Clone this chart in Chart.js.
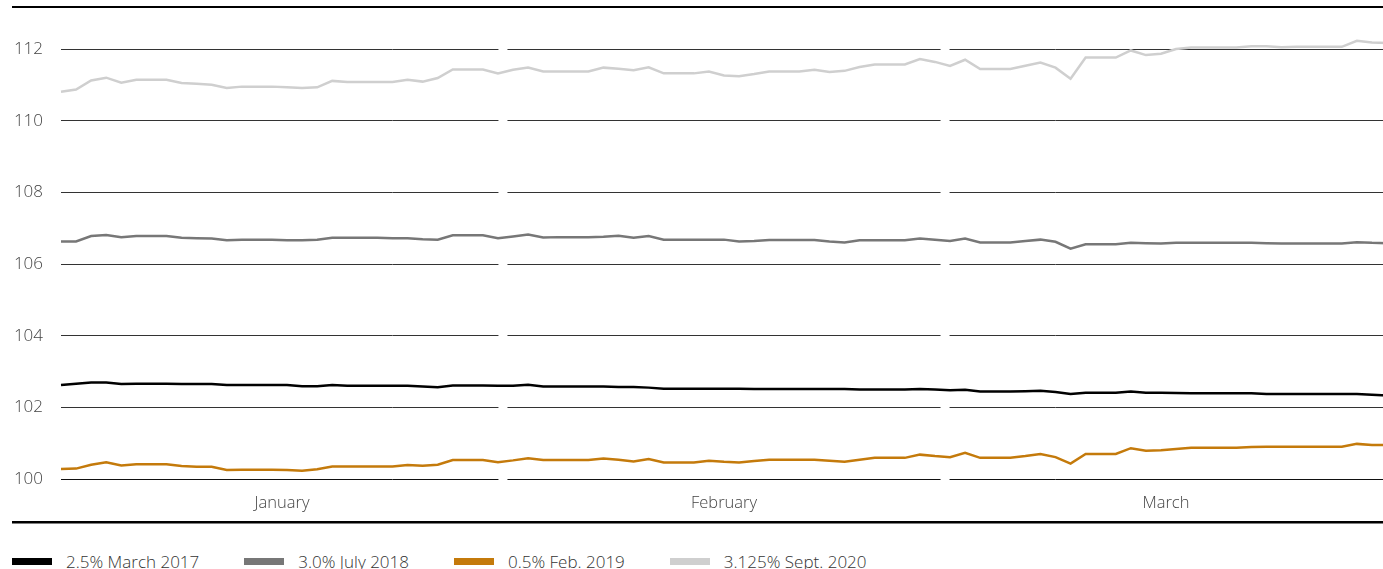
<!DOCTYPE html>
<html>
<head>
<meta charset="utf-8">
<script src="https://cdn.jsdelivr.net/npm/chart.js@4/dist/chart.umd.min.js"></script>
<style>
  html, body { margin: 0; padding: 0; background: #fff; overflow: hidden; }
  body { width: 1383px; height: 569px; position: relative; font-family: 'Open Sans', sans-serif; }
  .wrap { position: absolute; left: 0; top: 0; width: 1387px; height: 569px; }
  .chart-box { position: relative; width: 1387px; height: 530px; }
  .legend { position: absolute; left: 12px; top: 550px; display: flex; white-space: nowrap; }
  .legend-item { display: flex; align-items: center; margin-right: 45px; font-size: 17px; font-weight: 300; color: #333; }
  .legend-swatch { width: 40px; height: 7px; margin-right: 14px; }
</style>
</head>
<body>
<div class="wrap">
  <div class="chart-box"><canvas id="bondChart"></canvas></div>
  <div class="legend" id="legend"></div>
</div>
<script>
// ============================================================
// Bond prices, January – March
// ============================================================

const monthNames = ['January', 'February', 'March'];
const monthCentres = [14.67, 44, 73.33];
const monthBounds  = [29.33, 58.67];
const yTicks = [100, 102, 104, 106, 108, 110, 112];

const seriesNames  = ['2.5% March 2017', '3.0% July 2018', '0.5% Feb. 2019', '3.125% Sept. 2020'];
const seriesColors = ['#000000', '#777777', '#c47a0b', '#cfcfcf'];

const march2017 = [
  102.62,102.66,102.69,102.69,102.65,102.66,102.66,102.66,102.65,102.65,
  102.65,102.62,102.62,102.62,102.62,102.62,102.59,102.59,102.62,102.60,
  102.60,102.60,102.60,102.60,102.58,102.56,102.61,102.61,102.61,102.60,
  102.60,102.63,102.58,102.58,102.58,102.58,102.58,102.57,102.57,102.55,
  102.52,102.52,102.52,102.52,102.52,102.52,102.51,102.51,102.51,102.51,
  102.51,102.51,102.51,102.50,102.50,102.50,102.50,102.51,102.50,102.48,
  102.49,102.44,102.44,102.44,102.45,102.46,102.43,102.37,102.41,102.41,
  102.41,102.44,102.41,102.41,102.40,102.39,102.39,102.39,102.39,102.39,
  102.37,102.37,102.37,102.37,102.37,102.37,102.37,102.35,102.33
];

const july2018 = [
  106.63,106.63,106.78,106.81,106.75,106.78,106.78,106.78,106.73,106.72,
  106.71,106.66,106.68,106.68,106.68,106.66,106.66,106.68,106.73,106.73,
  106.73,106.73,106.72,106.72,106.69,106.68,106.80,106.80,106.80,106.72,
  106.77,106.82,106.74,106.75,106.75,106.75,106.76,106.79,106.73,106.78,
  106.68,106.68,106.68,106.68,106.68,106.63,106.64,106.67,106.67,106.67,
  106.67,106.63,106.60,106.66,106.66,106.66,106.66,106.71,106.68,106.64,
  106.71,106.60,106.60,106.60,106.64,106.68,106.62,106.43,106.55,106.55,
  106.55,106.59,106.58,106.57,106.59,106.59,106.59,106.59,106.59,106.59,
  106.58,106.57,106.57,106.57,106.57,106.57,106.61,106.59,106.58
];

const feb2019 = [
  100.28,100.29,100.40,100.47,100.38,100.41,100.41,100.41,100.36,100.34,
  100.34,100.25,100.26,100.26,100.26,100.25,100.23,100.27,100.35,100.35,
  100.35,100.35,100.35,100.39,100.37,100.40,100.53,100.53,100.53,100.47,
  100.52,100.58,100.53,100.53,100.53,100.53,100.57,100.54,100.49,100.56,
  100.46,100.46,100.46,100.51,100.48,100.46,100.50,100.54,100.54,100.54,
  100.54,100.51,100.48,100.54,100.59,100.59,100.59,100.68,100.64,100.61,
  100.73,100.59,100.59,100.59,100.64,100.70,100.61,100.43,100.70,100.70,
  100.70,100.86,100.79,100.80,100.84,100.87,100.87,100.87,100.87,100.89,
  100.90,100.90,100.90,100.90,100.90,100.90,100.98,100.95,100.95
];

const sept2020 = [
  110.81,110.87,111.12,111.20,111.06,111.14,111.14,111.14,111.05,111.03,
  111.00,110.91,110.95,110.95,110.95,110.93,110.91,110.93,111.11,111.08,
  111.08,111.08,111.08,111.14,111.09,111.19,111.43,111.43,111.43,111.32,
  111.42,111.48,111.37,111.37,111.37,111.37,111.48,111.45,111.41,111.49,
  111.32,111.32,111.32,111.37,111.26,111.24,111.30,111.37,111.37,111.37,
  111.42,111.36,111.39,111.50,111.57,111.57,111.57,111.72,111.64,111.53,
  111.70,111.44,111.44,111.44,111.53,111.62,111.48,111.17,111.76,111.76,
  111.76,111.96,111.83,111.87,112.00,112.04,112.04,112.04,112.04,112.08,
  112.08,112.05,112.06,112.06,112.06,112.06,112.23,112.18,112.17
];

const seriesValues = [march2017, july2018, feb2019, sept2020];

// ── Gaps in the gridlines at month changes + top/bottom rules ─
const frameLines = {
  id: 'frameLines',
  beforeDatasetsDraw(chart) {
    const { ctx, chartArea, scales } = chart;
    ctx.save();
    ctx.fillStyle = '#ffffff';
    monthBounds.forEach(b => {
      const px = scales.x.getPixelForValue(b);
      ctx.fillRect(px - 4.5, chartArea.top - 3, 9, chartArea.bottom - chartArea.top + 6);
    });
    ctx.restore();
  },
  afterDraw(chart) {
    const { ctx } = chart;
    ctx.save();
    ctx.fillStyle = '#000000';
    ctx.fillRect(12, 6, chart.width - 12, 2);
    ctx.fillRect(12, 521, chart.width - 12, 2.5);
    ctx.restore();
  }
};

// ── Build chart ──────────────────────────────────────────────
const labels = march2017.map((_, i) => i);

const chart = new Chart(document.getElementById('bondChart'), {
  type: 'line',
  data: {
    labels,
    datasets: seriesNames.map((name, i) => ({
      label: name,
      data: seriesValues[i],
      borderColor: seriesColors[i],
      backgroundColor: seriesColors[i],
      borderWidth: 2.5,
      pointRadius: 0,
      tension: 0,
      clip: false
    }))
  },
  options: {
    responsive: true,
    maintainAspectRatio: false,
    animation: false,
    layout: { padding: { top: 49, left: 0, right: 0, bottom: 0 } },
    plugins: {
      legend: { display: false },
      tooltip: { enabled: false }
    },
    scales: {
      x: {
        type: 'linear',
        min: 0,
        max: 88,
        grid: { display: false },
        border: { display: false },
        afterBuildTicks: scale => { scale.ticks = monthCentres.map(v => ({ value: v })); },
        afterFit: scale => { scale.height = 51; },
        ticks: {
          autoSkip: false,
          maxRotation: 0,
          padding: 6,
          color: '#444',
          font: { family: "'Open Sans', sans-serif", size: 16.5, weight: 300 },
          callback: (val, idx) => monthNames[idx]
        }
      },
      y: {
        min: 100,
        max: 112,
        afterBuildTicks: scale => { scale.ticks = yTicks.map(v => ({ value: v })); },
        afterFit: scale => { scale.width = 61; },
        border: { display: false },
        grid: {
          drawTicks: false,
          lineWidth: 1,
          color: ctx => ctx.tick && ctx.tick.value === 100 ? '#111' : '#333'
        },
        ticks: {
          padding: 18,
          color: '#444',
          font: { family: "'Open Sans', sans-serif", size: 17, weight: 300 }
        }
      }
    }
  },
  plugins: [frameLines]
});

// ── HTML legend ──────────────────────────────────────────────
document.getElementById('legend').innerHTML = chart.data.datasets.map(ds => `
  <div class="legend-item">
    <span class="legend-swatch" style="background:${ds.borderColor}"></span>
    <span>${ds.label}</span>
  </div>`).join('');
</script>
</body>
</html>
